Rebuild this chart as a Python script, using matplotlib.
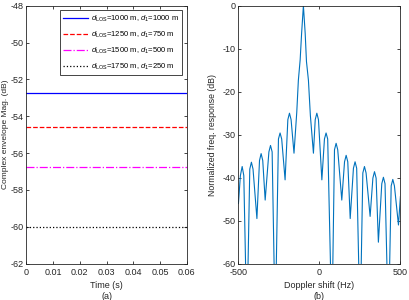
import matplotlib.pyplot as plt
import numpy as np

plt.rcParams['font.family'] = ['Liberation Sans', 'DejaVu Sans']
plt.rcParams['mathtext.fontset'] = 'custom'
plt.rcParams['mathtext.it'] = 'Liberation Sans:italic'
plt.rcParams['mathtext.rm'] = 'Liberation Sans'
plt.rcParams['axes.unicode_minus'] = False

# (a) received envelope magnitude, constant over time
time_s = [0.0, 0.06]
mag_db = [-52.75, -54.6, -56.75, -60.0]
labels = [
    r'$d_{\rm LOS}$=1000 m, $d_1$=1000 m',
    r'$d_{\rm LOS}$=1250 m, $d_1$=750 m',
    r'$d_{\rm LOS}$=1500 m, $d_1$=500 m',
    r'$d_{\rm LOS}$=1750 m, $d_1$=250 m',
]
colors = ['#0000ff', '#ff0000', '#ff00ff', '#000000']
styles = ['-', '--', '-.', ':']

# (b) normalized frequency response
doppler_hz = [-500, -488, -477, -467, -448, -430, -420, -410, -386, -370,
              -360, -350, -335, -312, -302, -292, -273, -253, -243, -233,
              -212, -195, -185, -175, -157, -140, -130, -119, -110, -99,
              -88, -80, -68, -56, -37, -26, -16, -6, 15, 31,
              41, 51, 77, 93, 103, 113, 138, 155, 165, 175,
              190, 210, 220, 230, 251, 268, 278, 288, 313, 330,
              340, 350, 364, 385, 395, 405, 426, 443, 453, 463,
              488, 500]
resp_db = [-46, -39.5, -37.4, -39.5, -75, -38, -36.4, -38, -49.5, -36,
           -34.4, -36, -45.2, -34, -32.5, -34, -75, -31, -29.6, -31,
           -40.5, -26.5, -25, -26.5, -34.3, -24.8, -17.3, -12.6, -6.4, 0,
           -6.4, -13, -17.3, -25.5, -34.3, -26.5, -25, -26.5, -40.5, -31,
           -29.6, -31, -75, -33.5, -32, -33.5, -45.2, -36.3, -34.8, -36.3,
           -49.5, -37.8, -36.3, -37.8, -75, -38.9, -37.4, -38.9, -49, -40.1,
           -38.6, -40.1, -55, -41.4, -39.9, -41.4, -75, -41.9, -40.4, -41.9,
           -51, -44.4]

axis_col = '#262626'
fs = 6.5

fig = plt.figure(figsize=(4.09, 3.0), dpi=100)
ax1 = fig.add_axes([0.064, 0.121, 0.393, 0.860])
ax2 = fig.add_axes([0.583, 0.121, 0.396, 0.860])

for val, lab, c, ls in zip(mag_db, labels, colors, styles):
    ax1.plot(time_s, [val, val], color=c, linestyle=ls, linewidth=0.9, label=lab)
ax1.set_xlim(0, 0.06)
ax1.set_ylim(-62, -48)
ax1.set_xticks(np.arange(0, 0.061, 0.01))
ax1.set_xticklabels(['0', '0.01', '0.02', '0.03', '0.04', '0.05', '0.06'])
ax1.set_yticks(range(-62, -47, 2))
ax1.set_xlabel('Time (s)\n(a)', fontsize=fs, color=axis_col, labelpad=3, linespacing=1.3)
ax1.set_ylabel('Complex envelope Mag. (dB)', fontsize=6.0, color=axis_col)
ax1.yaxis.set_label_coords(-0.108, 0.5)
leg = ax1.legend(loc='upper right', fontsize=5.5, frameon=True, fancybox=False,
                 edgecolor=axis_col, handlelength=3.2, borderpad=0.45,
                 labelspacing=0.75, handletextpad=0.4, borderaxespad=0.6,
                 framealpha=1)
leg.get_frame().set_linewidth(0.6)

ax2.plot(doppler_hz, resp_db, color='#0072BD', linewidth=0.8)
ax2.set_xlim(-500, 500)
ax2.set_ylim(-60, 0)
ax2.set_xticks([-500, 0, 500])
ax2.set_yticks(range(-60, 1, 10))
ax2.set_xlabel('Doppler shift (Hz)\n(b)', fontsize=fs, color=axis_col, labelpad=3, linespacing=1.3)
ax2.set_ylabel('Normalized freq. response (dB)', fontsize=6.3, color=axis_col)
ax2.yaxis.set_label_coords(-0.13, 0.5)

for ax in (ax1, ax2):
    ax.tick_params(direction='in', top=True, right=True, length=2.5, width=0.6,
                   labelsize=fs, colors=axis_col, pad=3)
    ax.tick_params(axis='y', pad=2)
    for sp in ax.spines.values():
        sp.set_linewidth(0.6)
        sp.set_color(axis_col)

fig.savefig('out.png', dpi=100)
